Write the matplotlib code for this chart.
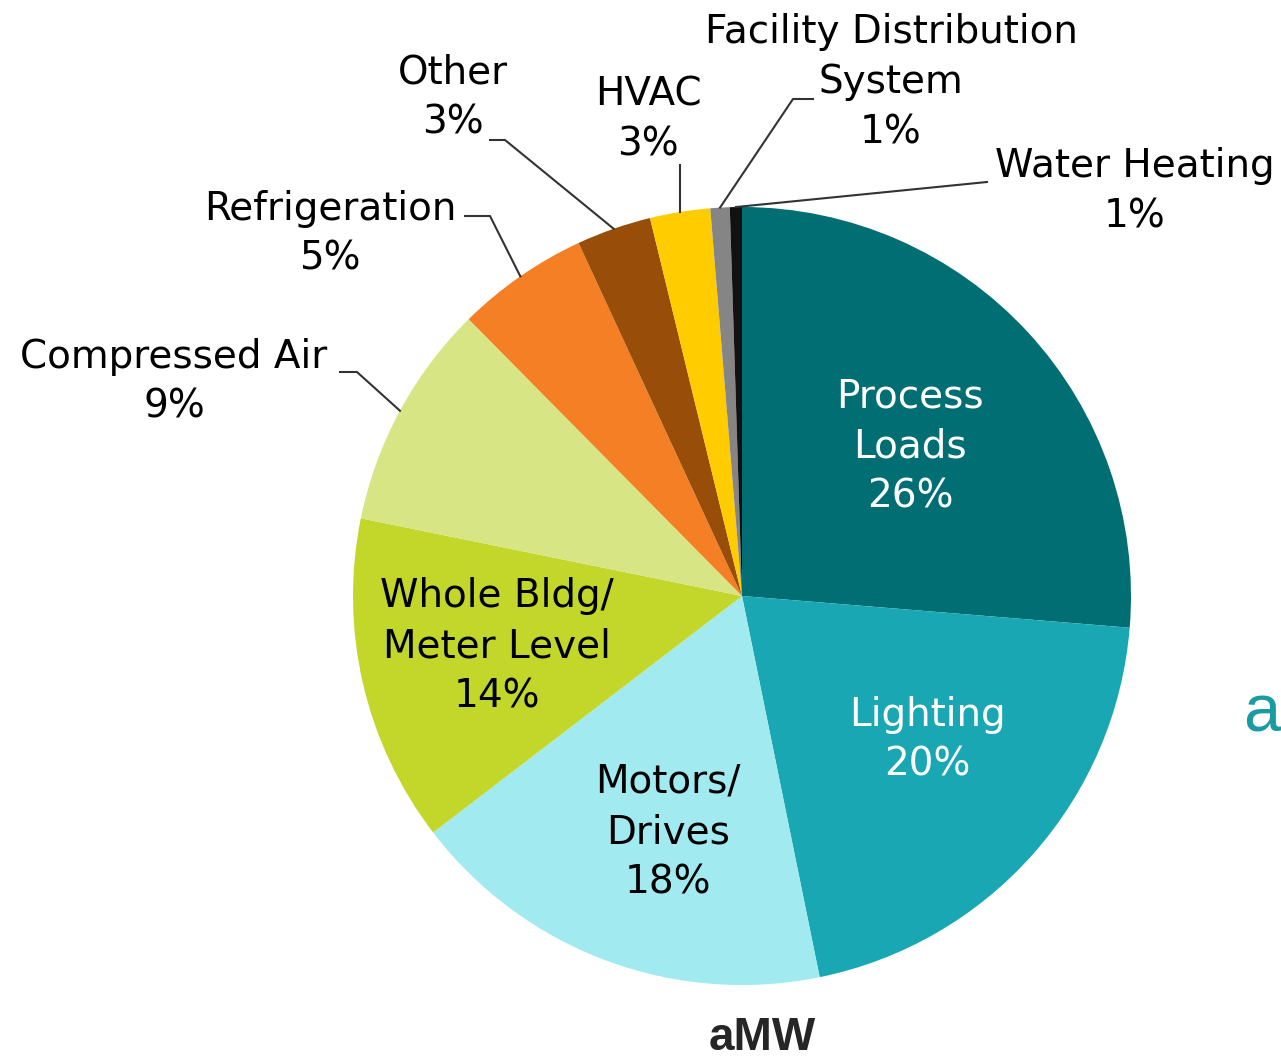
import numpy as np
import matplotlib.pyplot as plt

categories = ['Process Loads', 'Lighting', 'Motors/Drives', 'Whole Bldg/Meter Level',
              'Compressed Air', 'Refrigeration', 'Other', 'HVAC',
              'Facility Distribution System', 'Water Heating']
shares = [26.3, 20.5, 17.8, 13.6, 9.4, 5.5, 3.1, 2.5, 0.8, 0.5]
labels = ['Process\nLoads\n26%', 'Lighting\n20%', 'Motors/\nDrives\n18%',
          'Whole Bldg/\nMeter Level\n14%', 'Compressed Air\n9%', 'Refrigeration\n5%',
          'Other\n3%', 'HVAC\n3%', 'Facility Distribution\nSystem\n1%', 'Water Heating\n1%']
colors = ['#006E73', '#1AA7B4', '#A0EAF0', '#C2D72A', '#D8E584', '#F47F24',
          '#984D08', '#FFCC00', '#858585', '#111111']

W, H = 1281, 1060
fig = plt.figure(figsize=(W / 100, H / 100), dpi=100)
ax = fig.add_axes([0, 0, 1, 1])

cx, cy, r = 742, H - 596, 389
wedges, _ = ax.pie(shares, colors=colors, startangle=90, counterclock=False,
                   center=(cx, cy), radius=r, wedgeprops=dict(linewidth=0))

font = 'DejaVu Sans'
fs = 28
ls = 1.4

# inside labels: (x, y) in image pixels, text colour
inside = {0: (910, 446, 'white'), 1: (927, 740, 'white'),
          2: (668, 832, 'black'), 3: (497, 646, 'black')}
for i, (x, y, c) in inside.items():
    ax.text(x, H - y, labels[i], ha='center', va='center', color=c,
            fontsize=fs, family=font, linespacing=ls)

# outside labels: text centre, leader start, elbow (image pixels)
outside = {4: ((174, 382), (340, 372), (357, 372)),
           5: ((330, 234), (465, 216), (490, 216)),
           6: ((453, 98), (490, 140), (505, 140)),
           7: ((648, 120), (680, 165), None),
           8: ((891, 82), (813, 99), (793, 99)),
           9: ((1135, 191), (987, 182), None)}
for i, (tpos, start, elbow) in outside.items():
    w = wedges[i]
    ang = np.deg2rad((w.theta1 + w.theta2) / 2)
    ex, ey = cx + r * np.cos(ang), cy + r * np.sin(ang)
    if i == 7:
        xs, ys = [ex, ex], [H - start[1], ey]
    else:
        xs, ys = [start[0]], [H - start[1]]
        if elbow is not None:
            xs.append(elbow[0])
            ys.append(H - elbow[1])
        xs.append(ex)
        ys.append(ey)
    ax.plot(xs, ys, color='#333333', lw=1.5)
    ax.text(tpos[0], H - tpos[1], labels[i], ha='center', va='center', color='black',
            fontsize=fs, family=font, linespacing=ls)

ax.text(762, H - 1050, 'aMW', ha='center', va='baseline', color='#262626',
        fontsize=33, fontweight='bold', family='Liberation Sans')
ax.text(1262, H - 715, 'a', ha='center', va='center', color='#1A9AA3',
        fontsize=48, family='Liberation Sans')

ax.set_xlim(0, W)
ax.set_ylim(0, H)
ax.set_aspect('equal')
ax.axis('off')
fig.savefig('out.png', dpi=100)
